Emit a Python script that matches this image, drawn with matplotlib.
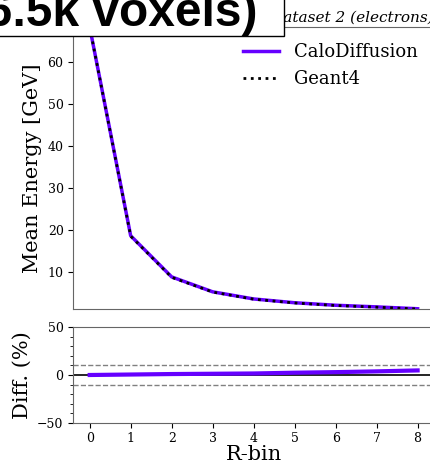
import numpy as np
import matplotlib
matplotlib.use("Agg")
import matplotlib.pyplot as plt
from matplotlib.patches import Rectangle
from matplotlib.ticker import MultipleLocator

# mean energy per radial bin (GeV)
r_bins = [0, 1, 2, 3, 4, 5, 6, 7, 8]
geant4 = [68.4, 18.6, 8.8, 5.3, 3.6, 2.7, 2.1, 1.7, 1.26]
calodiff = [68.4, 18.7, 8.9, 5.35, 3.65, 2.75, 2.15, 1.76, 1.32]
diff_pct = [0.0, 0.5, 1.0, 1.3, 1.6, 2.4, 3.0, 3.8, 4.8]

title_text = "CaloDiffusion (6.5k voxels)"
dataset_text = "Dataset 2 (electrons)"

purple = "#6600ff"
plt.rcParams["font.family"] = "DejaVu Serif"

fig = plt.figure(figsize=(4.31, 4.63), dpi=100)
W, H = 431, 463
left, right = 73.3 / W, 434.0 / W
ax = fig.add_axes([left, 1 - 309 / H, right - left, (309 - 27) / H])
rax = fig.add_axes([left, 1 - 422.7 / H, right - left, (422.7 - 327.3) / H])

ax.plot(r_bins, calodiff, color=purple, lw=2.5, label="CaloDiffusion")
ax.plot(r_bins, geant4, color="black", lw=2, ls=":", label="Geant4")
ax.set_xlim(-0.4, 8.4)
ax.set_ylim(min(geant4), max(geant4))
ax.set_ylabel("Mean Energy [GeV]", fontsize=15)
ax.set_xticks([])
ax.tick_params(axis="y", labelsize=9)
ax.legend(loc="upper right", frameon=False, fontsize=13, handlelength=2.0)
ax.set_title(dataset_text, loc="right", fontsize=11, fontstyle="italic", pad=4)

rax.plot(r_bins, diff_pct, color=purple, lw=3)
rax.axhline(0, color="black", lw=1.2, zorder=1)
rax.axhline(10, color="gray", lw=1, ls="--")
rax.axhline(-10, color="gray", lw=1, ls="--")
rax.set_xlim(-0.4, 8.4)
rax.set_ylim(-50, 50)
rax.set_yticks([-50, 0, 50])
rax.yaxis.set_minor_locator(MultipleLocator(10))
rax.set_xticks(r_bins)
rax.tick_params(labelsize=9)
rax.set_ylabel("Diff. (%)", fontsize=15)
rax.set_xlabel("R-bin", fontsize=15, labelpad=0)

for a in (ax, rax):
    for s in a.spines.values():
        s.set_color("0.4")

# title box, mostly cropped off at the top-left
fig.patches.append(Rectangle((-10 / W, 1 - 35.7 / H), 294 / W, 60 / H,
                             transform=fig.transFigure, facecolor="white",
                             edgecolor="black", lw=1, zorder=5))
fig.text(258 / W, 1 - 25.7 / H, title_text, ha="right", va="baseline",
         fontsize=34.5, fontweight="bold", family="Liberation Sans", zorder=6)

fig.savefig("out.png", dpi=100)
